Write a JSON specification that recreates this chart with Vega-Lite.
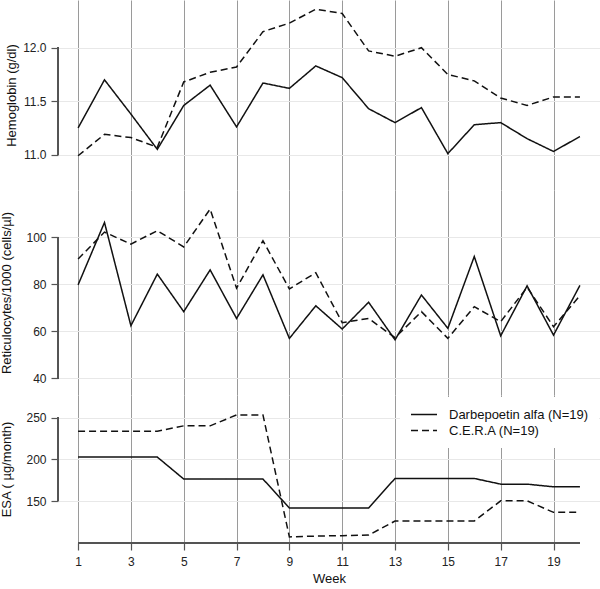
{
  "$schema": "https://vega.github.io/schema/vega-lite/v6.json",
  "padding": 0,
  "spacing": 0,
  "config": {
    "font": "Liberation Sans",
    "view": {"stroke": null},
    "axis": {
      "labelFont": "Liberation Sans",
      "titleFont": "Liberation Sans",
      "labelFontSize": 12,
      "titleFontSize": 13,
      "titleFontWeight": "normal",
      "labelColor": "#222",
      "titleColor": "#111",
      "tickColor": "#555",
      "tickSize": 7,
      "tickWidth": 1.2,
      "domain": false
    },
    "legend": {
      "labelFont": "Liberation Sans"
    }
  },
  "datasets": {
    "d": [
      {"week": 1, "group": "Darbepoetin alfa (N=19)", "hb": 11.25, "ret": 79.8, "esa": 202.6},
      {"week": 2, "group": "Darbepoetin alfa (N=19)", "hb": 11.70, "ret": 106.4, "esa": 202.6},
      {"week": 3, "group": "Darbepoetin alfa (N=19)", "hb": 11.38, "ret": 62.4, "esa": 202.6},
      {"week": 4, "group": "Darbepoetin alfa (N=19)", "hb": 11.05, "ret": 84.4, "esa": 202.6},
      {"week": 5, "group": "Darbepoetin alfa (N=19)", "hb": 11.46, "ret": 68.4, "esa": 176.3},
      {"week": 6, "group": "Darbepoetin alfa (N=19)", "hb": 11.65, "ret": 86.2, "esa": 176.3},
      {"week": 7, "group": "Darbepoetin alfa (N=19)", "hb": 11.26, "ret": 65.5, "esa": 176.3},
      {"week": 8, "group": "Darbepoetin alfa (N=19)", "hb": 11.67, "ret": 84.1, "esa": 176.3},
      {"week": 9, "group": "Darbepoetin alfa (N=19)", "hb": 11.62, "ret": 57.0, "esa": 141.6},
      {"week": 10, "group": "Darbepoetin alfa (N=19)", "hb": 11.83, "ret": 70.9, "esa": 141.6},
      {"week": 11, "group": "Darbepoetin alfa (N=19)", "hb": 11.72, "ret": 61.0, "esa": 141.6},
      {"week": 12, "group": "Darbepoetin alfa (N=19)", "hb": 11.43, "ret": 72.4, "esa": 141.6},
      {"week": 13, "group": "Darbepoetin alfa (N=19)", "hb": 11.30, "ret": 56.4, "esa": 177.0},
      {"week": 14, "group": "Darbepoetin alfa (N=19)", "hb": 11.44, "ret": 75.5, "esa": 177.0},
      {"week": 15, "group": "Darbepoetin alfa (N=19)", "hb": 11.01, "ret": 61.3, "esa": 177.0},
      {"week": 16, "group": "Darbepoetin alfa (N=19)", "hb": 11.28, "ret": 91.9, "esa": 177.0},
      {"week": 17, "group": "Darbepoetin alfa (N=19)", "hb": 11.30, "ret": 58.1, "esa": 170.2},
      {"week": 18, "group": "Darbepoetin alfa (N=19)", "hb": 11.15, "ret": 79.4, "esa": 170.2},
      {"week": 19, "group": "Darbepoetin alfa (N=19)", "hb": 11.03, "ret": 58.4, "esa": 167.0},
      {"week": 20, "group": "Darbepoetin alfa (N=19)", "hb": 11.17, "ret": 79.6, "esa": 167.0},
      {"week": 1, "group": "C.E.R.A (N=19)", "hb": 10.99, "ret": 90.8, "esa": 233.6},
      {"week": 2, "group": "C.E.R.A (N=19)", "hb": 11.19, "ret": 102.3, "esa": 233.6},
      {"week": 3, "group": "C.E.R.A (N=19)", "hb": 11.16, "ret": 97.2, "esa": 233.6},
      {"week": 4, "group": "C.E.R.A (N=19)", "hb": 11.07, "ret": 102.9, "esa": 233.6},
      {"week": 5, "group": "C.E.R.A (N=19)", "hb": 11.68, "ret": 96.0, "esa": 240.0},
      {"week": 6, "group": "C.E.R.A (N=19)", "hb": 11.77, "ret": 112.1, "esa": 240.0},
      {"week": 7, "group": "C.E.R.A (N=19)", "hb": 11.82, "ret": 78.4, "esa": 253.1},
      {"week": 8, "group": "C.E.R.A (N=19)", "hb": 12.15, "ret": 98.6, "esa": 253.1},
      {"week": 9, "group": "C.E.R.A (N=19)", "hb": 12.23, "ret": 78.1, "esa": 107.0},
      {"week": 10, "group": "C.E.R.A (N=19)", "hb": 12.36, "ret": 85.0, "esa": 108.0},
      {"week": 11, "group": "C.E.R.A (N=19)", "hb": 12.32, "ret": 63.7, "esa": 108.5},
      {"week": 12, "group": "C.E.R.A (N=19)", "hb": 11.97, "ret": 65.5, "esa": 109.2},
      {"week": 13, "group": "C.E.R.A (N=19)", "hb": 11.92, "ret": 57.3, "esa": 126.0},
      {"week": 14, "group": "C.E.R.A (N=19)", "hb": 12.00, "ret": 68.4, "esa": 126.0},
      {"week": 15, "group": "C.E.R.A (N=19)", "hb": 11.75, "ret": 57.0, "esa": 126.0},
      {"week": 16, "group": "C.E.R.A (N=19)", "hb": 11.69, "ret": 70.5, "esa": 126.0},
      {"week": 17, "group": "C.E.R.A (N=19)", "hb": 11.53, "ret": 64.1, "esa": 150.2},
      {"week": 18, "group": "C.E.R.A (N=19)", "hb": 11.46, "ret": 78.8, "esa": 150.2},
      {"week": 19, "group": "C.E.R.A (N=19)", "hb": 11.54, "ret": 62.0, "esa": 136.4},
      {"week": 20, "group": "C.E.R.A (N=19)", "hb": 11.54, "ret": 75.2, "esa": 136.4}
    ]
  },
  "resolve": {
    "scale": {"y": "independent", "strokeDash": "independent"},
    "legend": {"strokeDash": "independent"}
  },
  "vconcat": [
    {
      "width": 542,
      "height": 190,
      "data": {"name": "d"},
      "layer": [
        {
          "mark": {"type": "line", "color": "#111", "strokeWidth": 1.5},
          "encoding": {
            "x": {"field": "week", "type": "quantitative",
              "scale": {"domain": [0.24, 20.76], "nice": false, "zero": false},
              "axis": {"values": [1, 3, 5, 7, 9, 11, 13, 15, 17, 19], "grid": true, "gridColor": "#9a9a9a", "labels": false, "ticks": false, "domain": false, "title": null}},
            "y": {"field": "hb", "type": "quantitative",
              "scale": {"domain": [10.67, 12.446], "nice": false, "zero": false},
              "axis": {"values": [11, 11.5, 12], "format": ".1f", "grid": true, "gridColor": "#e8e8e8", "labelFontSize": 12, "titleFontSize": 13, "labelPadding": 5, "titlePadding": 4, "title": "Hemoglobin (g/dl)"}},
            "strokeDash": {"field": "group", "type": "nominal",
              "scale": {"domain": ["Darbepoetin alfa (N=19)", "C.E.R.A (N=19)"], "range": [[1, 0], [7, 4]]},
              "legend": null}
          }
        },
        {
          "mark": {"type": "rule", "color": "#555", "strokeWidth": 1.2},
          "encoding": {
            "x": {"datum": 0.24, "type": "quantitative"},
            "y": {"datum": 11, "type": "quantitative"},
            "y2": {"datum": 12}
          }
        }
      ]
    },
    {
      "width": 542,
      "height": 205,
      "data": {"name": "d"},
      "layer": [
        {
          "mark": {"type": "line", "color": "#111", "strokeWidth": 1.5},
          "encoding": {
            "x": {"field": "week", "type": "quantitative",
              "scale": {"domain": [0.24, 20.76], "nice": false, "zero": false},
              "axis": {"values": [1, 3, 5, 7, 9, 11, 13, 15, 17, 19], "grid": true, "gridColor": "#9a9a9a", "labels": false, "ticks": false, "domain": false, "title": null}},
            "y": {"field": "ret", "type": "quantitative",
              "scale": {"domain": [32.88, 120.24], "nice": false, "zero": false},
              "axis": {"values": [40, 60, 80, 100], "grid": true, "gridColor": "#e8e8e8", "labelFontSize": 12, "titleFontSize": 13, "labelPadding": 5, "titlePadding": 12, "title": "Reticulocytes/1000 (cells/µl)"}},
            "strokeDash": {"field": "group", "type": "nominal",
              "scale": {"domain": ["Darbepoetin alfa (N=19)", "C.E.R.A (N=19)"], "range": [[1, 0], [7, 4]]},
              "legend": null}
          }
        },
        {
          "mark": {"type": "rule", "color": "#555", "strokeWidth": 1.2},
          "encoding": {
            "x": {"datum": 0.24, "type": "quantitative"},
            "y": {"datum": 40, "type": "quantitative"},
            "y2": {"datum": 100}
          }
        }
      ]
    },
    {
      "width": 542,
      "height": 148,
      "data": {"name": "d"},
      "layer": [
        {
          "mark": {"type": "line", "color": "#111", "strokeWidth": 1.5},
          "encoding": {
            "x": {"field": "week", "type": "quantitative",
              "scale": {"domain": [0.24, 20.76], "nice": false, "zero": false},
              "axis": {"values": [1, 2, 3, 4, 5, 6, 7, 8, 9, 10, 11, 12, 13, 14, 15, 16, 17, 18, 19, 20],
                "labelExpr": "datum.value % 2 === 1 ? datum.label : ''",
                "labelOverlap": false, "labelFlush": false,
                "grid": true, "gridColor": "#9a9a9a",
                "gridOpacity": {"condition": {"test": "datum.value % 2 === 0", "value": 0}, "value": 1},
                "labelFontSize": 12, "titleFontSize": 13,
                "labelPadding": 6, "titlePadding": 5, "domain": false, "title": "Week"}},
            "y": {"field": "esa", "type": "quantitative",
              "scale": {"domain": [99.7, 276.95], "nice": false, "zero": false},
              "axis": {"values": [150, 200, 250], "grid": true, "gridColor": "#e8e8e8", "labelFontSize": 12, "titleFontSize": 13, "labelPadding": 5, "titlePadding": 12, "title": "ESA ( µg/month)"}},
            "strokeDash": {"field": "group", "type": "nominal",
              "scale": {"domain": ["Darbepoetin alfa (N=19)", "C.E.R.A (N=19)"], "range": [[1, 0], [7, 4]]},
              "legend": {
                "orient": "none", "legendX": 342, "legendY": 2, "title": null,
                "fillColor": "white", "padding": 10,
                "symbolType": "M-1,0H3", "symbolSize": 169,
                "symbolStrokeColor": "#111", "symbolFillColor": "transparent", "symbolStrokeWidth": 1.5,
                "labelFontSize": 13, "labelColor": "#111", "labelOffset": 24, "labelLimit": 300,
                "rowPadding": 1
              }}
          }
        },
        {
          "mark": {"type": "rule", "color": "#555", "strokeWidth": 1.2},
          "encoding": {
            "x": {"datum": 0.24, "type": "quantitative"},
            "y": {"datum": 150, "type": "quantitative"},
            "y2": {"datum": 250}
          }
        },
        {
          "mark": {"type": "rule", "color": "#555", "strokeWidth": 1.2},
          "encoding": {
            "x": {"datum": 1, "type": "quantitative"},
            "x2": {"datum": 20},
            "y": {"datum": 99.7, "type": "quantitative"}
          }
        }
      ]
    }
  ]
}
